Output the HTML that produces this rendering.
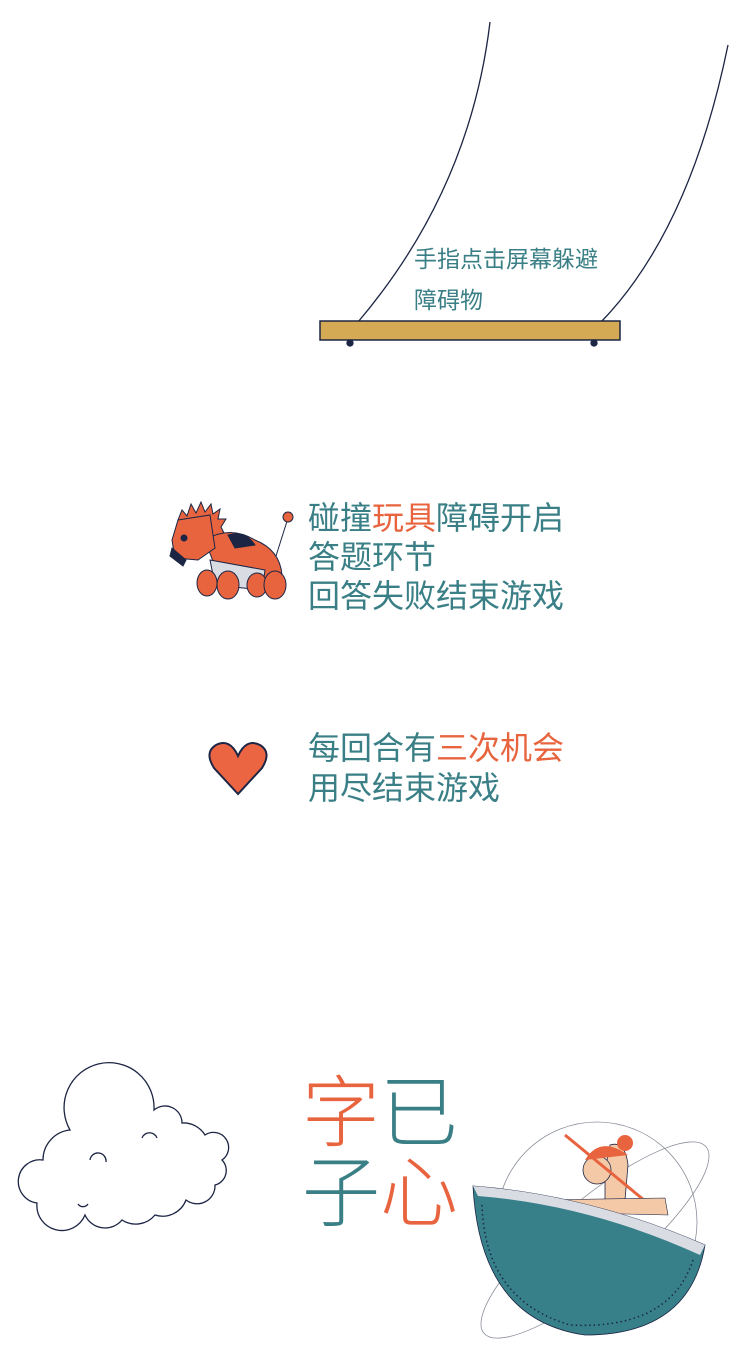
<!DOCTYPE html>
<html><head><meta charset="utf-8"><style>
body{margin:0;background:#fff}
#page{position:relative;width:750px;height:1355px;overflow:hidden;background:#fff;font-family:"Liberation Sans","Noto Sans CJK SC",sans-serif;color:#3a7f86}
.t{position:absolute;white-space:nowrap}
.o{color:#e8643f}
svg{position:absolute;left:0;top:0}
</style></head><body>
<div id="page">
<svg width="750" height="1355">
 <g stroke="#1c2544" fill="none" stroke-width="1.3">
  <path d="M490 22 Q470 190 358 322"/>
  <path d="M728 45 Q690 230 601 322"/>
  <rect x="320" y="321" width="300" height="19" fill="#d4aa55" stroke-width="1.5"/>
  <circle cx="350" cy="343" r="3" fill="#1c2544"/>
  <circle cx="594" cy="343" r="3" fill="#1c2544"/>
 </g>
 <g stroke="#1c2544" stroke-width="1">
  <line x1="276" y1="556" x2="288" y2="518"/>
  <circle cx="288" cy="517" r="5" fill="#e8643f"/>
  <path d="M178 520 l4 -10 l5 6 l4 -12 l5 9 l5 -11 l4 10 l6 -8 l2 10 l7 -5 l-2 10 l8 0 l-5 8 l4 8 l-12 4 z" fill="#e8643f"/>
  <path d="M205 540 Q230 525 255 540 Q280 550 282 575 L270 585 L220 580 Z" fill="#e8643f"/>
  <path d="M228 535 Q245 530 255 545 L235 548 Z" fill="#1c2544"/>
  <path d="M210 560 L265 570 L262 590 L215 585 Z" fill="#d9dce3"/>
  <path d="M178 520 L210 515 L215 548 L198 560 L175 558 L172 540 Z" fill="#e8643f"/>
  <path d="M172 548 L186 560 L183 566 L170 556 Z" fill="#1c2544"/>
  <circle cx="184" cy="538" r="3" fill="#1c2544"/>
  <ellipse cx="207" cy="583" rx="10" ry="13" fill="#e8643f"/>
  <ellipse cx="228" cy="585" rx="11" ry="14" fill="#e8643f"/>
  <ellipse cx="257" cy="585" rx="10" ry="12" fill="#e8643f"/>
  <ellipse cx="275" cy="585" rx="11" ry="14" fill="#e8643f"/>
 </g>
 <path d="M238 794 L214 768 Q204 752 216 745 Q230 738 238 756 Q246 738 260 745 Q272 752 262 768 Z" fill="#ec6543" stroke="#1c2544" stroke-width="2"/>
 <g fill="#fff" stroke="#1c2544" stroke-width="1.3">
  <path d="M70 1130 A45 45 0 1 1 154 1110 A17 17 0 0 1 182 1123 A25 25 0 0 1 205 1135 A15 15 0 0 1 222 1160 A15 15 0 0 1 215 1185 A18 18 0 0 1 186 1200 A25 25 0 0 1 155 1215 A25 25 0 0 1 122 1220 A22 22 0 0 1 85 1215 A25 25 0 0 1 37 1203 A21 21 0 0 1 43 1160 A30 30 0 0 1 70 1130 Z"/>
  <path d="M142 1138 A8 8 0 0 1 157 1138 M90 1160 A8 8 0 0 1 106 1162 M78 1204 A6 6 0 0 0 88 1204"/>
 </g>
 <g>
  <circle cx="597" cy="1222" r="100" fill="none" stroke="#8a8f9a" stroke-width="0.8"/>
  <ellipse cx="595" cy="1240" rx="145" ry="40" transform="rotate(-40 595 1240)" fill="none" stroke="#8a8f9a" stroke-width="0.8"/>
  <path d="M605 1170 L610 1145 Q625 1140 628 1165 L625 1200 L605 1200 Z" fill="#f3c9a8" stroke="#1c2544" stroke-width="0.8"/>
  <circle cx="597" cy="1170" r="14" fill="#f3c9a8" stroke="#1c2544" stroke-width="0.8"/>
  <path d="M585 1160 Q600 1135 628 1155 Z" fill="#e8643f"/>
  <line x1="565" y1="1135" x2="650" y2="1205" stroke="#e8643f" stroke-width="3"/>
  <circle cx="625" cy="1143" r="8" fill="#e8643f"/>
  <path d="M540 1200 L665 1198 L668 1215 L540 1212 Z" fill="#f3c9a8" stroke="#1c2544" stroke-width="0.6"/>
  <path d="M473 1186 Q590 1195 705 1245 Q690 1335 585 1335 Q480 1320 473 1186 Z" fill="#37808a" stroke="#1c2544" stroke-width="0.8"/>
  <path d="M473 1186 Q590 1195 705 1245 L700 1255 Q590 1205 478 1196 Z" fill="#d9dce3"/>
  <path d="M482 1205 Q485 1300 570 1325 Q670 1330 693 1260" fill="none" stroke="#1c2544" stroke-width="1.5" stroke-dasharray="1.5 3"/>
 </g>
</svg>
<div class="t" style="left:414px;top:239px;font-size:23px;line-height:41px">手指点击屏幕躲避<br>障碍物</div>
<div class="t" style="left:308px;top:499px;font-size:32px;line-height:39px">碰撞<span class="o">玩具</span>障碍开启<br>答题环节<br>回答失败结束游戏</div>
<div class="t" style="left:308px;top:728px;font-size:32px;line-height:40px">每回合有<span class="o">三次机会</span><br>用尽结束游戏</div>
<div class="t" style="left:302px;top:1073px;font-size:78px;line-height:80px;font-weight:300"><span class="o">字</span>已<br>子<span class="o">心</span></div>
</div>
</body></html>
